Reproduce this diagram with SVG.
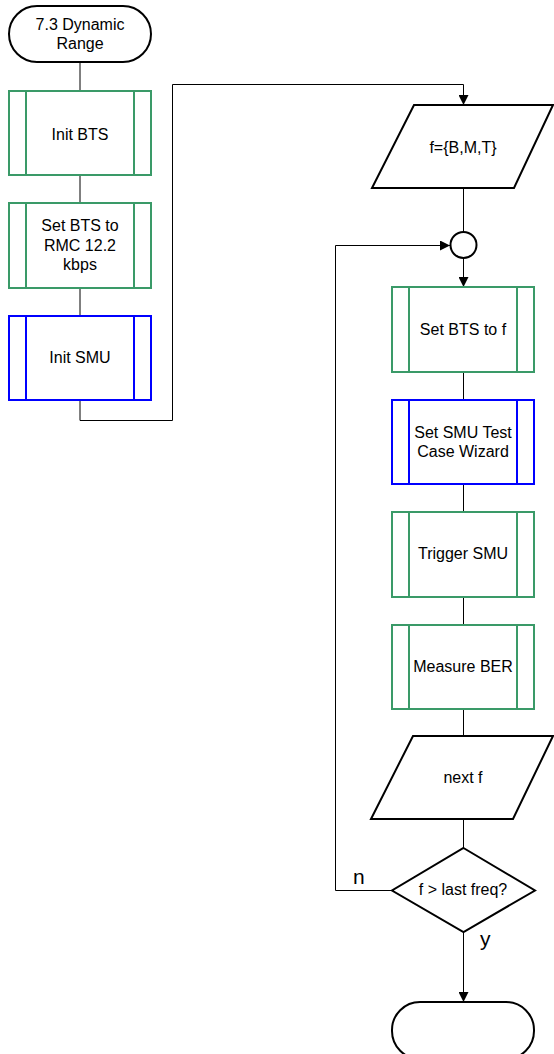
<svg xmlns="http://www.w3.org/2000/svg" width="554" height="1054" viewBox="0 0 554 1054">
<style>
.t{font-family:"Liberation Sans",Arial,sans-serif;font-size:16px;fill:#000;text-anchor:middle}
.lb{font-family:"Liberation Sans",Arial,sans-serif;font-size:21px;fill:#000}
.g{fill:#fff;stroke:#3a9a68;stroke-width:2}
.b{fill:#fff;stroke:#0000ff;stroke-width:2}
.k{fill:#fff;stroke:#000;stroke-width:2}
.c{fill:none;stroke:#000;stroke-width:1}
</style>
<defs>
<marker id="ah" markerUnits="userSpaceOnUse" markerWidth="10" markerHeight="10" refX="10" refY="5" orient="auto">
<path d="M0,0 L10,5 L0,10 z" fill="#000"/>
</marker>
</defs>
<g id="connectors">
<path class="c" d="M80,62 V91"/>
<path class="c" d="M80,175 V203"/>
<path class="c" d="M80,288 V316"/>
<path class="c" d="M80,400 V420.5 H172.5 V84.5 H463.5 V105" marker-end="url(#ah)"/>
<path class="c" d="M463.5,188 V232"/>
<path class="c" d="M463.5,258 V287" marker-end="url(#ah)"/>
<path class="c" d="M463.5,372 V400"/>
<path class="c" d="M463.5,484 V512"/>
<path class="c" d="M463.5,597 V625"/>
<path class="c" d="M463.5,709 V736"/>
<path class="c" d="M463.5,819 V848"/>
<path class="c" d="M392,890.5 H335.5 V245.5 H450" marker-end="url(#ah)"/>
<path class="c" d="M463.5,932 V1002" marker-end="url(#ah)"/>
<text class="lb" x="353" y="884">n</text>
<text class="lb" x="480" y="946">y</text>
</g>
<g id="start">
<rect class="k" x="9" y="6" width="142" height="56" rx="28"/>
<text class="t" x="80" y="30">7.3 Dynamic</text>
<text class="t" x="80" y="49">Range</text>
</g>
<g id="initbts">
<rect class="g" x="9" y="91" width="142" height="84"/>
<path class="g" d="M26,91 V175 M134,91 V175"/>
<text class="t" x="80" y="140">Init BTS</text>
</g>
<g id="setbtsrmc">
<rect class="g" x="9" y="203" width="142" height="85"/>
<path class="g" d="M26,203 V288 M134,203 V288"/>
<text class="t" x="80" y="231">Set BTS to</text>
<text class="t" x="80" y="250.5">RMC 12.2</text>
<text class="t" x="80" y="270">kbps</text>
</g>
<g id="initsmu">
<rect class="b" x="9" y="316" width="142" height="84"/>
<path class="b" d="M26,316 V400 M134,316 V400"/>
<text class="t" x="80" y="363">Init SMU</text>
</g>
<g id="freqset">
<polygon class="k" points="414,105 553,105 514,188 372,188"/>
<text class="t" x="463" y="153">f={B,M,T}</text>
</g>
<g id="junction">
<circle class="k" cx="463.5" cy="245" r="13"/>
</g>
<g id="setbtsf">
<rect class="g" x="392" y="287" width="142" height="85"/>
<path class="g" d="M409,287 V372 M517,287 V372"/>
<text class="t" x="463" y="335">Set BTS to f</text>
</g>
<g id="setsmu">
<rect class="b" x="392" y="400" width="142" height="84"/>
<path class="b" d="M409,400 V484 M517,400 V484"/>
<text class="t" x="463" y="438">Set SMU Test</text>
<text class="t" x="463" y="457">Case Wizard</text>
</g>
<g id="trigger">
<rect class="g" x="392" y="512" width="142" height="85"/>
<path class="g" d="M409,512 V597 M517,512 V597"/>
<text class="t" x="463" y="559">Trigger SMU</text>
</g>
<g id="measure">
<rect class="g" x="392" y="625" width="142" height="84"/>
<path class="g" d="M409,625 V709 M517,625 V709"/>
<text class="t" x="463" y="672">Measure BER</text>
</g>
<g id="nextf">
<polygon class="k" points="413,736 553,736 513,819 371,819"/>
<text class="t" x="463" y="783">next f</text>
</g>
<g id="decision">
<polygon class="k" points="463.5,848 535,890.5 463.5,932 392,890.5"/>
<text class="t" x="463" y="895">f &gt; last freq?</text>
</g>
<g id="end">
<rect class="k" x="392" y="1002" width="142" height="57" rx="28"/>
</g>
</svg>
